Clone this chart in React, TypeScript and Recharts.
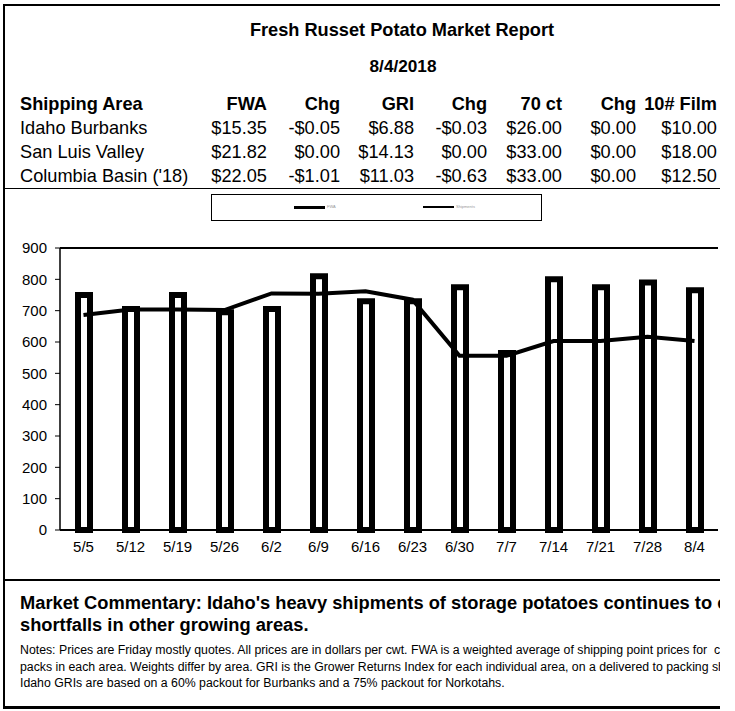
import React from "react";
import {
  ComposedChart,
  Bar,
  Line,
  XAxis,
  YAxis,
  ReferenceLine,
  Legend,
} from "recharts";

// ─── Chart data ───────────────────────────────────────────────────
const WEEKS = ["5/5", "5/12", "5/19", "5/26", "6/2", "6/9", "6/16", "6/23", "6/30", "7/7", "7/14", "7/21", "7/28", "8/4"];
const SHIPMENTS = [750, 705, 750, 695, 705, 810, 730, 730, 775, 565, 800, 775, 790, 765];
const TREND = [686, 704, 704, 702, 755, 754, 762, 735, 556, 556, 603, 603, 617, 603];
const Y_TICKS = [0, 100, 200, 300, 400, 500, 600, 700, 800, 900];
const RIGHT_TICKS = [0, 1, 2, 3, 4, 5, 6, 7];
const EDGE_TICKS = [0, 1, 2, 3, 4, 5, 6, 7, 8, 9, 10, 11, 12, 13, 14];

// ─── Table data ───────────────────────────────────────────────────
const COLUMNS = ["FWA", "Chg", "GRI", "Chg", "70 ct", "Chg", "10# Film"];
const AREAS = ["Idaho Burbanks", "San Luis Valley", "Columbia Basin ('18)"];
const IDAHO_ROW = ["$15.35", "-$0.05", "$6.88", "-$0.03", "$26.00", "$0.00", "$10.00"];
const SLV_ROW = ["$21.82", "$0.00", "$14.13", "$0.00", "$33.00", "$0.00", "$18.00"];
const CB_ROW = ["$22.05", "-$1.01", "$11.03", "-$0.63", "$33.00", "$0.00", "$12.50"];

const NOTES = [
  "Notes: Prices are Friday mostly quotes. All prices are in dollars per cwt. FWA is a weighted average of shipping point prices for\u00a0 cartons and film",
  "packs in each area. Weights differ by area. GRI is the Grower Returns Index for each individual area, on a delivered to packing shed basis.",
  "Idaho GRIs are based on a 60% packout for Burbanks and a 75% packout for Norkotahs.",
];

// ─── Layout ───────────────────────────────────────────────────────
const FONT = '"Liberation Sans", Arial, sans-serif';
const COL_RIGHT = [267, 340, 414, 487, 562, 636, 717];
const ROW_Y = [128, 152, 176];
const LEGEND_X = [82, 211];

const chartData = WEEKS.map((week, i) => ({
  week,
  shipments: SHIPMENTS[i],
  trend: TREND[i],
}));

interface TxtProps {
  x: number;
  y: number;
  size: number;
  bold?: boolean;
  align?: "left" | "right" | "center";
  children: React.ReactNode;
}

function Txt({ x, y, size, bold, align = "left", children }: TxtProps) {
  const lh = Math.round(size * 1.3);
  const w = 700;
  const left = align === "left" ? x : align === "right" ? x - w : x - w / 2;
  return (
    <div
      style={{
        position: "absolute",
        left,
        top: y - lh / 2,
        width: w,
        lineHeight: `${lh}px`,
        fontSize: size,
        fontWeight: bold ? "bold" : "normal",
        textAlign: align,
        whiteSpace: "nowrap",
      }}
    >
      {children}
    </div>
  );
}

function renderLegend(props: any) {
  const payload = props.payload || [];
  return (
    <div style={{ position: "relative", width: "100%", height: "100%" }}>
      {payload.map((entry: any, i: number) => (
        <div
          key={entry.value}
          style={{
            position: "absolute",
            left: LEGEND_X[i],
            top: 9,
            height: 6,
            display: "flex",
            alignItems: "center",
          }}
        >
          <span style={{ display: "inline-block", width: 31, height: i === 0 ? 3 : 2, background: "#000" }} />
          <span style={{ fontSize: 4, color: "#999", marginLeft: 2, lineHeight: "6px" }}>{entry.value}</span>
        </div>
      ))}
    </div>
  );
}

const tickStyle = { fill: "#000", fontSize: 15, fontFamily: FONT };

function ShipmentChart() {
  return (
    <ComposedChart
      width={735}
      height={380}
      data={chartData}
      margin={{ top: 58, right: 0, left: 0, bottom: 0 }}
    >
      <XAxis
        xAxisId="edgeUp"
        type="number"
        domain={[0, 14]}
        ticks={EDGE_TICKS}
        mirror
        height={0}
        axisLine={false}
        tickSize={5}
        tickLine={{ stroke: "#000" }}
        tickFormatter={() => ""}
      />
      <XAxis
        xAxisId="edgeDown"
        type="number"
        domain={[0, 14]}
        ticks={EDGE_TICKS}
        height={0}
        axisLine={false}
        tickSize={5}
        tickLine={{ stroke: "#000" }}
        tickFormatter={() => ""}
      />
      <XAxis
        xAxisId="cat"
        dataKey="week"
        height={40}
        interval={0}
        tickLine={false}
        tickSize={0}
        tickMargin={11}
        axisLine={{ stroke: "#000", strokeWidth: 2 }}
        tick={tickStyle}
      />
      <YAxis
        yAxisId="left"
        width={60}
        domain={[0, 900]}
        ticks={Y_TICKS}
        interval={0}
        tickSize={5}
        tickMargin={8}
        axisLine={{ stroke: "#000", strokeWidth: 1.5 }}
        tickLine={{ stroke: "#000" }}
        tick={tickStyle}
      />
      <YAxis
        yAxisId="right"
        orientation="right"
        width={17}
        domain={[0, 7]}
        ticks={RIGHT_TICKS}
        interval={0}
        axisLine={false}
        tickSize={3}
        tickLine={{ stroke: "#000" }}
        tickFormatter={() => ""}
      />
      <ReferenceLine xAxisId="cat" yAxisId="left" y={900} stroke="#000" strokeWidth={2} />
      <Legend
        layout="horizontal"
        align="center"
        verticalAlign="middle"
        content={renderLegend}
        wrapperStyle={{
          left: 211,
          top: 4,
          width: 331,
          height: 27,
          border: "1px solid #000",
          boxSizing: "border-box",
        }}
      />
      <Bar
        xAxisId="cat"
        yAxisId="left"
        dataKey="shipments"
        name="Shipments"
        fill="#fff"
        stroke="#000"
        strokeWidth={6}
        barSize={12}
        isAnimationActive={false}
      />
      <Line
        xAxisId="cat"
        yAxisId="left"
        type="linear"
        dataKey="trend"
        name="FWA"
        stroke="#000"
        strokeWidth={4}
        dot={false}
        activeDot={false}
        isAnimationActive={false}
      />
    </ComposedChart>
  );
}

export default function App() {
  return (
    <div
      style={{
        position: "absolute",
        left: 0,
        top: 0,
        width: 720,
        height: 711,
        overflow: "hidden",
        background: "#fff",
        color: "#000",
        fontFamily: FONT,
      }}
    >
      {/* outer frame */}
      <div
        style={{
          position: "absolute",
          left: 3,
          top: 4,
          width: 800,
          height: 705,
          boxSizing: "border-box",
          borderLeft: "2px solid #000",
          borderTop: "2px solid #000",
          borderBottom: "3px solid #000",
        }}
      />
      <div style={{ position: "absolute", left: 3, top: 188, width: 800, height: 1, background: "#000" }} />
      <div style={{ position: "absolute", left: 3, top: 579, width: 800, height: 2, background: "#000" }} />

      {/* header */}
      <Txt x={402} y={30} size={18.2} bold align="center">Fresh Russet Potato Market Report</Txt>
      <Txt x={403} y={66} size={17.2} bold align="center">8/4/2018</Txt>

      {/* price table */}
      <Txt x={20} y={104} size={18.2} bold>Shipping Area</Txt>
      {COLUMNS.map((c, i) => (
        <Txt key={"h" + i} x={COL_RIGHT[i]} y={104} size={18.2} bold align="right">{c}</Txt>
      ))}
      {[IDAHO_ROW, SLV_ROW, CB_ROW].map((row, r) => (
        <React.Fragment key={"r" + r}>
          <Txt x={20} y={ROW_Y[r]} size={18.2}>{AREAS[r]}</Txt>
          {row.map((v, i) => (
            <Txt key={i} x={COL_RIGHT[i]} y={ROW_Y[r]} size={18.2} align="right">{v}</Txt>
          ))}
        </React.Fragment>
      ))}

      {/* chart */}
      <div style={{ position: "absolute", left: 0, top: 190 }}>
        <ShipmentChart />
      </div>

      {/* commentary */}
      <Txt x={20} y={603} size={18.3} bold>
        Market Commentary: Idaho's heavy shipments of storage potatoes continues to cover
      </Txt>
      <Txt x={20} y={625} size={18.3} bold>shortfalls in other growing areas.</Txt>
      <Txt x={20} y={650} size={12.3}>{NOTES[0]}</Txt>
      <Txt x={20} y={667} size={12.3}>{NOTES[1]}</Txt>
      <Txt x={20} y={683} size={12.3}>{NOTES[2]}</Txt>
    </div>
  );
}
